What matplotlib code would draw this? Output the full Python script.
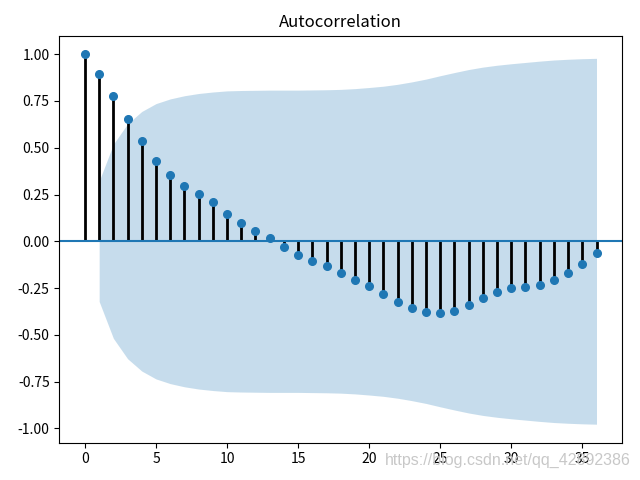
import numpy as np
import matplotlib
matplotlib.use("Agg")
import matplotlib.pyplot as plt

plt.rcParams['font.family'] = ['Noto Sans CJK SC', 'DejaVu Sans']
plt.rcParams['axes.unicode_minus'] = False

lags = list(range(37))
acf_values = [1.000, 0.893, 0.775, 0.652, 0.535, 0.428, 0.353, 0.294, 0.251,
              0.209, 0.144, 0.096, 0.053, 0.016, -0.032, -0.075, -0.107, -0.134,
              -0.171, -0.209, -0.241, -0.283, -0.326, -0.358, -0.380, -0.385,
              -0.374, -0.342, -0.305, -0.273, -0.251, -0.246, -0.235, -0.209,
              -0.171, -0.123, -0.064]
band_lags = list(range(1, 37))
band_half = [0.322, 0.519, 0.628, 0.694, 0.736, 0.761, 0.778, 0.790, 0.798,
             0.804, 0.806, 0.807, 0.808, 0.808, 0.808, 0.809, 0.810, 0.812,
             0.816, 0.822, 0.829, 0.839, 0.852, 0.867, 0.885, 0.902, 0.918,
             0.931, 0.941, 0.949, 0.956, 0.963, 0.969, 0.973, 0.976, 0.978]
title = "Autocorrelation"
watermark = "https://blog.csdn.net/qq_42892386"

fig = plt.figure(figsize=(6.4, 4.8), dpi=100)
ax = fig.add_axes([0.0928, 0.0777, 0.972 - 0.0928, 0.9256 - 0.0777])

ax.vlines(lags, [0], acf_values, colors='black', linewidth=2)
ax.axhline(0, color='C0', linewidth=1.5)
ax.margins(0.05)
ax.plot(lags, acf_values, marker='o', markersize=5.5, linestyle='None', color='C0')
bh = np.array(band_half)
ax.fill_between(band_lags, -bh, bh, alpha=0.25, linewidth=0, color='C0')
ax.set_title(title, fontsize=12)
ax.set_yticks([-1.0, -0.75, -0.5, -0.25, 0.0, 0.25, 0.5, 0.75, 1.0])
ax.set_yticklabels(["-1.00", "-0.75", "-0.50", "-0.25", "0.00", "0.25", "0.50", "0.75", "1.00"])
ax.set_xticks([0, 5, 10, 15, 20, 25, 30, 35])

fig.text(0.602, 0.040, watermark, color='#c8c8c8', fontsize=11.5,
         family=['Liberation Sans', 'DejaVu Sans'], ha='left', va='center', zorder=10)

fig.savefig("out.png", dpi=100)
